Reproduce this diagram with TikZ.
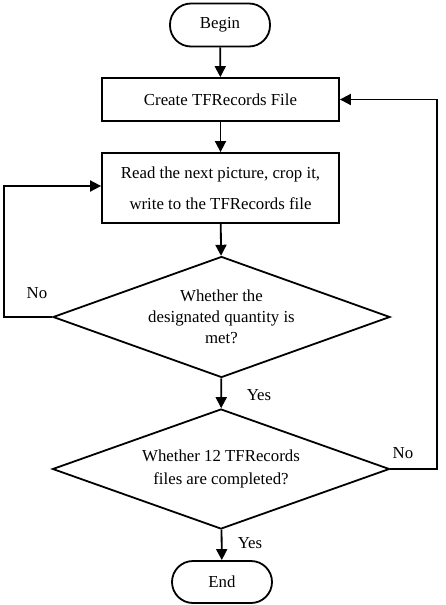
\documentclass[tikz,border=0pt]{standalone}
\usepackage{fontspec}
\setmainfont{Liberation Serif}
\usetikzlibrary{shapes.geometric,arrows.meta}
\tikzset{
  base/.style={draw=black, line width=1.8pt, font=\fontsize{16.8}{21}\selectfont, align=center, inner sep=0pt},
  term/.style={base, rectangle, rounded corners=21pt, minimum width=100pt, minimum height=43pt},
  proc/.style={base, rectangle, minimum width=237pt},
  dec/.style={base, diamond, shape aspect=2.8, minimum width=337pt, minimum height=121pt},
  conn/.style={line width=1.8pt, -{Triangle[length=11pt,width=11pt]}},
  lab/.style={font=\fontsize{16.8}{20}\selectfont, inner sep=0pt}
}
\begin{document}
\begin{tikzpicture}[x=1pt,y=-1pt]
\useasboundingbox (0,0) rectangle (445,605);
\node[term] (begin) at (220,25) {Begin};
\node[proc, minimum height=43pt] (create) at (220.5,99.5) {Create TFRecords File};
\node[proc, minimum height=70pt] (read) at (220.5,188) {Read the next picture, crop it,\\[10pt]write to the TFRecords file};
\node[dec] (d1) at (221.5,317) {Whether the\\designated quantity is\\met?};
\node[dec, minimum height=120pt] (d2) at (221,469) {Whether 12 TFRecords\\[2pt]files are completed?};
\node[term, minimum height=42pt] (end) at (222,582) {End};
\coordinate (lc) at (4,317);
\coordinate (rc) at (437,469);
\draw[conn] (begin) -- (create);
\draw[conn] (create) -- (read);
\draw[conn] (read) -- (d1);
\draw[conn] (d1) -- (d2);
\draw[conn] (d2) -- (end);
\draw[conn] (d1.west) -- (lc) |- ([yshift=2pt]read.west);
\draw[conn] (d2.east) -- (rc) |- (create.east);
\node[lab] (no1) at (37,293) {No};
\node[lab] (yes1) at (259,395) {Yes};
\node[lab] (no2) at (403,453) {No};
\node[lab] (yes2) at (250,543) {Yes};
\end{tikzpicture}
\end{document}
